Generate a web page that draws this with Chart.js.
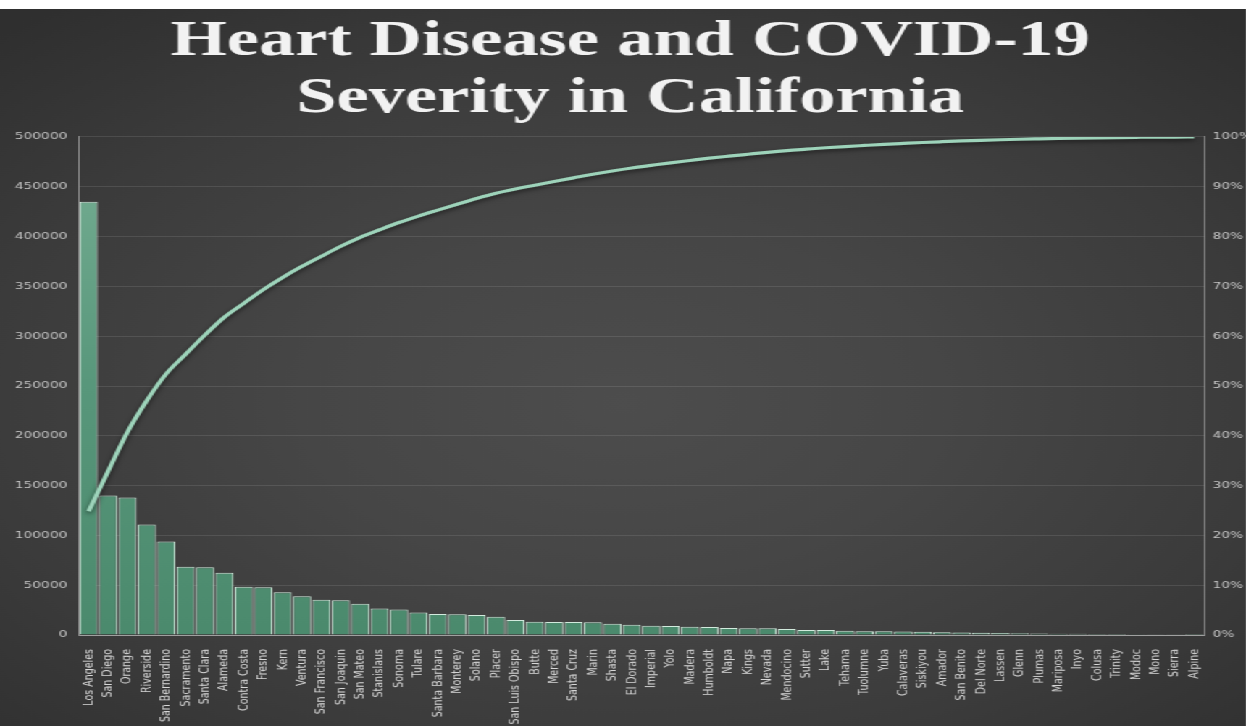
<!DOCTYPE html>
<html>
<head>
<meta charset="utf-8">
<title>Heart Disease and COVID-19 Severity in California</title>
<script src="https://cdn.jsdelivr.net/npm/chart.js@4.4.1/dist/chart.umd.min.js"></script>
<style>
  html, body { margin: 0; padding: 0; background: #ffffff; overflow: hidden; }
  body { width: 1246px; height: 726px; position: relative; }
  /* chart is laid out on an 860px-wide board and widened to the full page width */
  #board {
    position: absolute; left: 0; top: 9px;
    width: 860px; height: 717px;
    transform: scaleX(1.44884); transform-origin: 0 0;
    background: radial-gradient(ellipse 75% 70% at 50% 55%, #4d4d4d 0%, #464646 35%, #3b3b3b 70%, #2f2f2f 100%);
  }
  #chart { display: block; }
</style>
</head>
<body>
<div id="board"><canvas id="chart"></canvas></div>
<script>
// Counties, ordered from most to fewest cases
const counties = [
  "Los Angeles", "San Diego", "Orange", "Riverside", "San Bernardino", "Sacramento",
  "Santa Clara", "Alameda", "Contra Costa", "Fresno", "Kern", "Ventura",
  "San Francisco", "San Joaquin", "San Mateo", "Stanislaus", "Sonoma", "Tulare",
  "Santa Barbara", "Monterey", "Solano", "Placer", "San Luis Obispo", "Butte",
  "Merced", "Santa Cruz", "Marin", "Shasta", "El Dorado", "Imperial",
  "Yolo", "Madera", "Humboldt", "Napa", "Kings", "Nevada",
  "Mendocino", "Sutter", "Lake", "Tehama", "Tuolumne", "Yuba",
  "Calaveras", "Siskiyou", "Amador", "San Benito", "Del Norte", "Lassen",
  "Glenn", "Plumas", "Mariposa", "Inyo", "Colusa", "Trinity",
  "Modoc", "Mono", "Sierra", "Alpine"
];

// Heart disease count per county
const cases = [
  435000, 140000, 138000, 111000, 94000, 68500,
  68000, 62500, 48500, 48000, 43000, 39000,
  35500, 35000, 31500, 26500, 25500, 22500,
  21000, 20800, 20200, 18300, 15000, 13200,
  13000, 13000, 12800, 11400, 10400, 9200,
  9000, 8200, 8000, 7100, 6800, 6700,
  6000, 5100, 5000, 4300, 3800, 3700,
  3400, 3300, 2800, 2600, 2200, 2000,
  1800, 1400, 1300, 1200, 1100, 1000,
  800, 700, 300, 100
];

// Axis ticks
const countTicks = [0, 50000, 100000, 150000, 200000, 250000, 300000, 350000, 400000, 450000, 500000];
const shareTicks = [0, 0.1, 0.2, 0.3, 0.4, 0.5, 0.6, 0.7, 0.8, 0.9, 1];

// Running share of the state total (Pareto line)
const total = cases.reduce((a, b) => a + b, 0);
const cumulativeShare = [];
cases.reduce((run, v) => { run += v; cumulativeShare.push(run / total); return run; }, 0);

const tickFont = { family: '"DejaVu Sans", sans-serif', size: 9.5 };

function barFill(ctx) {
  const area = ctx.chart.chartArea;
  if (!area) return '#4f8e71';
  const g = ctx.chart.ctx.createLinearGradient(0, area.top, 0, area.bottom);
  g.addColorStop(0, '#76ae93');
  g.addColorStop(0.5, '#58977b');
  g.addColorStop(1, '#4b8a6d');
  return g;
}

// soft drop shadow under the cumulative line
const lineShadow = {
  id: 'lineShadow',
  beforeDatasetDraw(chart, args) {
    if (args.meta.type !== 'line') return;
    const c = chart.ctx;
    c.save();
    c.shadowColor = 'rgba(0,0,0,0.55)';
    c.shadowBlur = 4;
    c.shadowOffsetY = 2;
  },
  afterDatasetDraw(chart, args) {
    if (args.meta.type !== 'line') return;
    chart.ctx.restore();
  }
};

new Chart(document.getElementById('chart'), {
  data: {
    labels: counties,
    datasets: [
      {
        type: 'line',
        data: cumulativeShare,
        yAxisID: 'yShare',
        borderColor: '#9dd3ba',
        borderWidth: 3.2,
        pointRadius: 0,
        tension: 0.4,
        cubicInterpolationMode: 'monotone',
        fill: false,
        order: 0
      },
      {
        type: 'bar',
        data: cases,
        yAxisID: 'yCount',
        backgroundColor: barFill,
        borderColor: '#d2eadd',
        borderWidth: 1,
        categoryPercentage: 1.0,
        barPercentage: 0.94,
        order: 1
      }
    ]
  },
  plugins: [lineShadow],
  options: {
    responsive: true,
    maintainAspectRatio: false,
    animation: false,
    layout: { padding: { left: 10, right: 0, top: 0, bottom: 0 } },
    plugins: {
      legend: { display: false },
      tooltip: { enabled: false },
      title: {
        display: true,
        text: ['Heart Disease and COVID-19', 'Severity in California'],
        color: '#f2f2f2',
        font: { family: '"Liberation Serif", "Times New Roman", serif', size: 50, weight: 'bold', lineHeight: 1.14 },
        padding: { top: 5, bottom: 9 }
      }
    },
    scales: {
      x: {
        grid: { display: false },
        border: { display: true, color: '#a0a0a0', width: 1 },
        ticks: {
          autoSkip: false,
          minRotation: 90,
          maxRotation: 90,
          padding: 6,
          color: '#d6d6d6',
          font: tickFont
        },
        afterFit(scale) { scale.height = 91; }
      },
      yCount: {
        position: 'left',
        min: 0,
        max: 500000,
        afterBuildTicks(scale) { scale.ticks = countTicks.map(v => ({ value: v })); },
        grid: { color: 'rgba(255,255,255,0.10)', lineWidth: 1, drawTicks: false },
        border: { display: true, color: '#8c8c8c', width: 1 },
        ticks: {
          padding: 8,
          color: '#c4c4c4',
          font: tickFont,
          callback: v => String(v)
        },
        afterFit(scale) { scale.width = 44.5; }
      },
      yShare: {
        position: 'right',
        min: 0,
        max: 1,
        afterBuildTicks(scale) { scale.ticks = shareTicks.map(v => ({ value: v })); },
        grid: { display: false, drawTicks: false },
        border: { display: true, color: '#8c8c8c', width: 1 },
        ticks: {
          padding: 6,
          color: '#c4c4c4',
          font: tickFont,
          callback: v => Math.round(v * 100) + '%'
        },
        afterFit(scale) { scale.width = 29; }
      }
    }
  }
});
</script>
</body>
</html>
